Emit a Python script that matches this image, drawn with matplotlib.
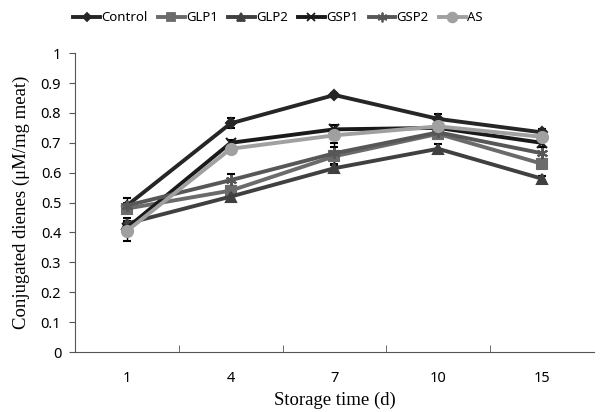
import numpy as np
import matplotlib
matplotlib.use('Agg')
import matplotlib.pyplot as plt
from matplotlib.ticker import FixedLocator
from matplotlib.lines import Line2D

# storage days and conjugated dienes (uM/mg meat)
days = ['1', '4', '7', '10', '15']
series = ['Control', 'GLP1', 'GLP2', 'GSP1', 'GSP2', 'AS']

control = [0.49, 0.765, 0.86, 0.78, 0.735]
glp1 = [0.48, 0.54, 0.655, 0.73, 0.63]
glp2 = [0.43, 0.52, 0.615, 0.68, 0.58]
gsp1 = [0.415, 0.70, 0.745, 0.75, 0.70]
gsp2 = [0.49, 0.575, 0.665, 0.735, 0.665]
as_ = [0.405, 0.68, 0.725, 0.755, 0.72]

control_err = [0.01, 0.017, 0.008, 0.015, 0.012]
glp1_err = [0.015, 0.015, 0.03, 0.01, 0.015]
glp2_err = [0.02, 0.015, 0.012, 0.015, 0.01]
gsp1_err = [0.02, 0.01, 0.015, 0.01, 0.015]
gsp2_err = [0.025, 0.02, 0.035, 0.015, 0.02]
as_err = [0.035, 0.012, 0.01, 0.01, 0.01]

values = [control, glp1, glp2, gsp1, gsp2, as_]
errors = [control_err, glp1_err, glp2_err, gsp1_err, gsp2_err, as_err]
colors = ['#262626', '#6b6b6b', '#404040', '#1a1a1a', '#575757', '#a0a0a0']
markers = ['D', 's', '^', 'x', (6, 2, 0), 'o']
msizes = [5, 7, 7, 7, 8, 8]

fig = plt.figure(figsize=(6.11, 4.12), dpi=100)
ax = fig.add_axes([0.1228, 0.1456, 0.849, 0.7254])

x = np.arange(len(days)) + 1
handles = []
for name, v, e, c, m, ms in zip(series, values, errors, colors, markers, msizes):
    ax.errorbar(x, v, yerr=e, color=c, ecolor='black', elinewidth=1, capsize=3,
                marker=m, markersize=ms, linewidth=2.8, markeredgewidth=1.5,
                markeredgecolor=c)
    handles.append(Line2D([], [], color=c, marker=m, markersize=ms - 1, linewidth=2.8,
                          markeredgewidth=1.3, markeredgecolor=c, label=name))

ax.set_xlim(0.5, 5.5)
ax.set_ylim(0, 1)
ax.set_xticks(x)
ax.set_xticklabels(days)
ax.xaxis.set_minor_locator(FixedLocator([1.5, 2.5, 3.5, 4.5]))
ax.tick_params(axis='x', which='major', length=0, pad=14, labelsize=10.5)
ax.tick_params(axis='x', which='minor', direction='in', length=5, color='#555555')
ax.set_yticks(np.round(np.arange(0, 1.01, 0.1), 1))
ax.set_yticklabels(['0'] + [f'{t:.1f}' for t in np.arange(0.1, 0.95, 0.1)] + ['1'])
ax.tick_params(axis='y', direction='out', length=4, labelsize=10.5, pad=6, color='#555555')
for lab in ax.get_xticklabels() + ax.get_yticklabels():
    lab.set_family('Noto Sans')

for s in ['top', 'right']:
    ax.spines[s].set_visible(False)
for s in ['left', 'bottom']:
    ax.spines[s].set_color('#555555')

ax.set_xlabel('Storage time (d)', family='Liberation Serif', fontsize=13.5, labelpad=4)
ax.set_ylabel('Conjugated dienes (μM/mg meat)', family='Liberation Serif', fontsize=13.5, labelpad=8)

fig.legend(handles=handles, loc='center', bbox_to_anchor=(0.455, 0.957), ncol=6, frameon=False,
           prop={'family': 'Noto Sans', 'size': 9.5}, handlelength=2.0, handletextpad=0.1,
           columnspacing=0.8)

fig.savefig('out.png', dpi=100)
